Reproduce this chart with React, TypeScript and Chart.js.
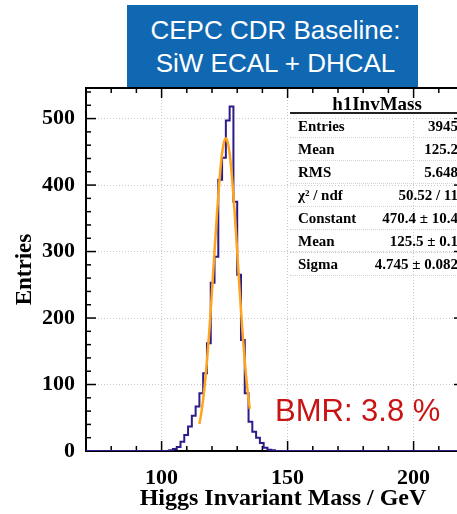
import React, { useEffect, useRef } from 'react';
import { Chart, registerables } from 'chart.js';

Chart.register(...registerables);

// ---- histogram (h1InvMass): 100 bins of 1.5 GeV from 70 to 220 GeV ----
const HIST_LOW_EDGE = 70;
const BIN_WIDTH = 1.5;
const binCounts = [
  0, 0, 0, 0, 0, 0, 0, 0, 0, 0,
  0, 0, 0, 0, 0, 0, 0, 0, 0, 0,
  0, 0, 1, 3, 6, 14, 24, 37, 53, 67,
  87, 117, 162, 253, 292, 408, 441, 497, 518, 375,
  265, 167, 87, 44, 29, 20, 12, 5, 2, 1,
  0, 0, 0, 0, 0, 0, 0, 0, 0, 0,
  0, 0, 0, 0, 0, 0, 0, 0, 0, 0,
  0, 0, 0, 0, 0, 0, 0, 0, 0, 0,
  0, 0, 0, 0, 0, 0, 0, 0, 0, 0,
  0, 0, 0, 0, 0, 0, 0, 0, 0, 0,
];

// ---- Gaussian fit curve ----
const fitX = [115, 116, 117, 118, 119, 120, 121, 122, 123, 124, 125, 125.5, 126, 127, 128, 129, 130, 131, 132, 133, 134, 135];
const fitY = [40.7, 63.4, 94.6, 134.9, 184.1, 240.3, 300.0, 358.4, 409.4, 447.5, 467.8, 470.4, 467.8, 447.5, 409.4, 358.4, 300.0, 240.3, 184.1, 134.9, 94.6, 63.4];

// ---- axes ----
const X_MIN = 70;
const X_MAX = 220;
const Y_MIN = 0;
const Y_MAX = 546;
const xTickValues = [100, 150, 200];
const yTickValues = [0, 100, 200, 300, 400, 500];
const X_MINOR_STEP = 10;
const X_MAJOR_STEP = 50;
const Y_MINOR_STEP = 20;
const Y_MAJOR_STEP = 100;

// ---- texts ----
const titleLines = ['CEPC CDR Baseline:', 'SiW ECAL + DHCAL'];
const xAxisTitle = 'Higgs Invariant Mass / GeV';
const yAxisTitle = 'Entries';
const statsTitle = 'h1InvMass';
const statsLabels = ['Entries', 'Mean', 'RMS', 'χ² / ndf', 'Constant', 'Mean', 'Sigma'];
const statsValues = ['3945', '125.2', '5.648', '50.52 / 11', '470.4 ± 10.4', '125.5 ± 0.1', '4.745 ± 0.082'];
const bmrText = 'BMR: 3.8 %';

const SERIF = '"Liberation Serif", "Times New Roman", Times, serif';
const SANS = '"Liberation Sans", Arial, Helvetica, sans-serif';

const CANVAS_W = 470;
const CANVAS_H = 514;

export default function App() {
  const canvasRef = useRef<HTMLCanvasElement>(null);

  useEffect(() => {
    const canvas = canvasRef.current;
    if (!canvas) return;

    const histPoints = binCounts.map((c, i) => ({ x: HIST_LOW_EDGE + i * BIN_WIDTH, y: c }));
    histPoints.push({
      x: HIST_LOW_EDGE + binCounts.length * BIN_WIDTH,
      y: binCounts[binCounts.length - 1],
    });
    const fitPoints = fitX.map((x, i) => ({ x, y: fitY[i] }));

    const rootFrame = {
      id: 'rootFrame',
      beforeDatasetsDraw(chart: any) {
        const { ctx, chartArea: a, scales } = chart;
        const xs = scales.x;
        const ys = scales.y;
        ctx.save();
        ctx.strokeStyle = '#000';
        ctx.lineWidth = 1.5;
        const seg = (x1: number, y1: number, x2: number, y2: number) => {
          ctx.beginPath();
          ctx.moveTo(x1, y1);
          ctx.lineTo(x2, y2);
          ctx.stroke();
        };
        for (let v = Y_MIN; v <= Y_MAX; v += Y_MINOR_STEP) {
          const p = ys.getPixelForValue(v);
          const len = v % Y_MAJOR_STEP === 0 ? 10 : 5;
          seg(a.left, p, a.left + len, p);
          seg(a.right - len, p, a.right, p);
        }
        for (let v = X_MIN; v <= X_MAX; v += X_MINOR_STEP) {
          const p = xs.getPixelForValue(v);
          const len = v % X_MAJOR_STEP === 0 ? 10 : 5;
          seg(p, a.bottom, p, a.bottom - len);
          seg(p, a.top, p, a.top + len);
        }
        ctx.lineWidth = 2;
        ctx.strokeRect(a.left, a.top, a.right - a.left, a.bottom - a.top);
        ctx.restore();
      },
    };

    const chart = new Chart(canvas, {
      type: 'line',
      data: {
        datasets: [
          {
            label: 'fit',
            data: fitPoints,
            borderColor: '#ffa41c',
            borderWidth: 2.5,
            pointRadius: 0,
            cubicInterpolationMode: 'monotone',
            fill: false,
            order: 0,
          },
          {
            label: 'h1InvMass',
            data: histPoints,
            borderColor: '#2b1c8a',
            borderWidth: 2,
            pointRadius: 0,
            stepped: true,
            fill: false,
            order: 1,
          },
        ],
      },
      options: {
        animation: false,
        responsive: false,
        devicePixelRatio: 1,
        layout: { autoPadding: false, padding: { top: 88, right: CANVAS_W - 464, left: 0, bottom: 0 } },
        plugins: { legend: { display: false }, tooltip: { enabled: false }, title: { display: false } },
        scales: {
          x: {
            type: 'linear',
            min: X_MIN,
            max: X_MAX,
            afterBuildTicks: (axis: any) => {
              axis.ticks = xTickValues.map((v) => ({ value: v }));
            },
            afterFit: (axis: any) => {
              axis.height = CANVAS_H - 451;
            },
            grid: { color: '#c9c9c9', lineWidth: 1, drawTicks: false },
            border: { display: false, dash: [1, 2] },
            ticks: {
              padding: 14,
              color: '#000',
              autoSkip: false,
              maxRotation: 0,
              font: { family: SERIF, size: 22, weight: 'bold' },
            },
          },
          y: {
            type: 'linear',
            min: Y_MIN,
            max: Y_MAX,
            afterBuildTicks: (axis: any) => {
              axis.ticks = yTickValues.map((v) => ({ value: v }));
            },
            afterFit: (axis: any) => {
              axis.width = 86;
            },
            grid: { color: '#c9c9c9', lineWidth: 1, drawTicks: false },
            border: { display: false, dash: [1, 2] },
            ticks: {
              padding: 11,
              color: '#000',
              autoSkip: false,
              font: { family: SERIF, size: 22, weight: 'bold' },
            },
            title: {
              display: true,
              text: yAxisTitle,
              color: '#000',
              padding: { top: 11, bottom: 0 },
              font: { family: SERIF, size: 23, weight: 'bold' },
            },
          },
        },
      },
      plugins: [rootFrame],
    } as any);

    return () => chart.destroy();
  }, []);

  return (
    <div
      style={{
        position: 'fixed',
        left: 0,
        top: 0,
        width: 457,
        height: 514,
        overflow: 'hidden',
        background: '#fff',
      }}
    >
      <canvas
        ref={canvasRef}
        width={CANVAS_W}
        height={CANVAS_H}
        style={{ position: 'absolute', left: 0, top: 0, width: CANVAS_W, height: CANVAS_H }}
      />
      {/* blue title box */}
      <div
        style={{
          position: 'absolute',
          left: 127,
          top: 5,
          width: 291,
          height: 82,
          background: '#1068b3',
          color: '#fff',
          fontFamily: SANS,
          fontSize: 26,
          lineHeight: '33px',
          textAlign: 'center',
          boxSizing: 'border-box',
          paddingTop: 9,
          paddingLeft: 6,
          whiteSpace: 'nowrap',
        }}
      >
        {titleLines.map((t, i) => (
          <div key={i}>{t}</div>
        ))}
      </div>
      {/* stats box */}
      <div
        style={{
          position: 'absolute',
          left: 290,
          top: 93,
          width: 174,
          height: 22,
          textAlign: 'center',
          fontFamily: SERIF,
          fontWeight: 'bold',
          fontSize: 19,
          lineHeight: '22px',
          color: '#000',
        }}
      >
        {statsTitle}
      </div>
      <div style={{ position: 'absolute', left: 290, top: 112, width: 174, height: 0, borderTop: '2px solid #222' }} />
      {statsLabels.map((lab, i) => (
        <div
          key={'r' + i}
          style={{
            position: 'absolute',
            left: 298,
            top: 126 + 23 * i - 9,
            width: 160,
            height: 18,
            display: 'flex',
            justifyContent: 'space-between',
            fontFamily: SERIF,
            fontWeight: 'bold',
            fontSize: 15,
            lineHeight: '18px',
            color: '#000',
            whiteSpace: 'nowrap',
          }}
        >
          <span>{lab}</span>
          <span>{statsValues[i]}</span>
        </div>
      ))}
      {statsLabels.map((_, i) => (
        <div
          key={'s' + i}
          style={{
            position: 'absolute',
            left: 290,
            top: 137 + 23 * i,
            width: 174,
            height: 0,
            borderTop: '1px dotted #d4d4d4',
          }}
        />
      ))}
      {/* BMR annotation */}
      <div
        style={{
          position: 'absolute',
          left: 275,
          top: 395,
          fontFamily: SANS,
          fontSize: 31,
          lineHeight: '31px',
          color: '#c81414',
          whiteSpace: 'nowrap',
        }}
      >
        {bmrText}
      </div>
      {/* x axis title */}
      <div
        style={{
          position: 'absolute',
          left: 133,
          top: 483,
          width: 300,
          height: 28,
          textAlign: 'center',
          fontFamily: SERIF,
          fontWeight: 'bold',
          fontSize: 24,
          lineHeight: '28px',
          color: '#000',
          whiteSpace: 'nowrap',
        }}
      >
        {xAxisTitle}
      </div>
    </div>
  );
}
